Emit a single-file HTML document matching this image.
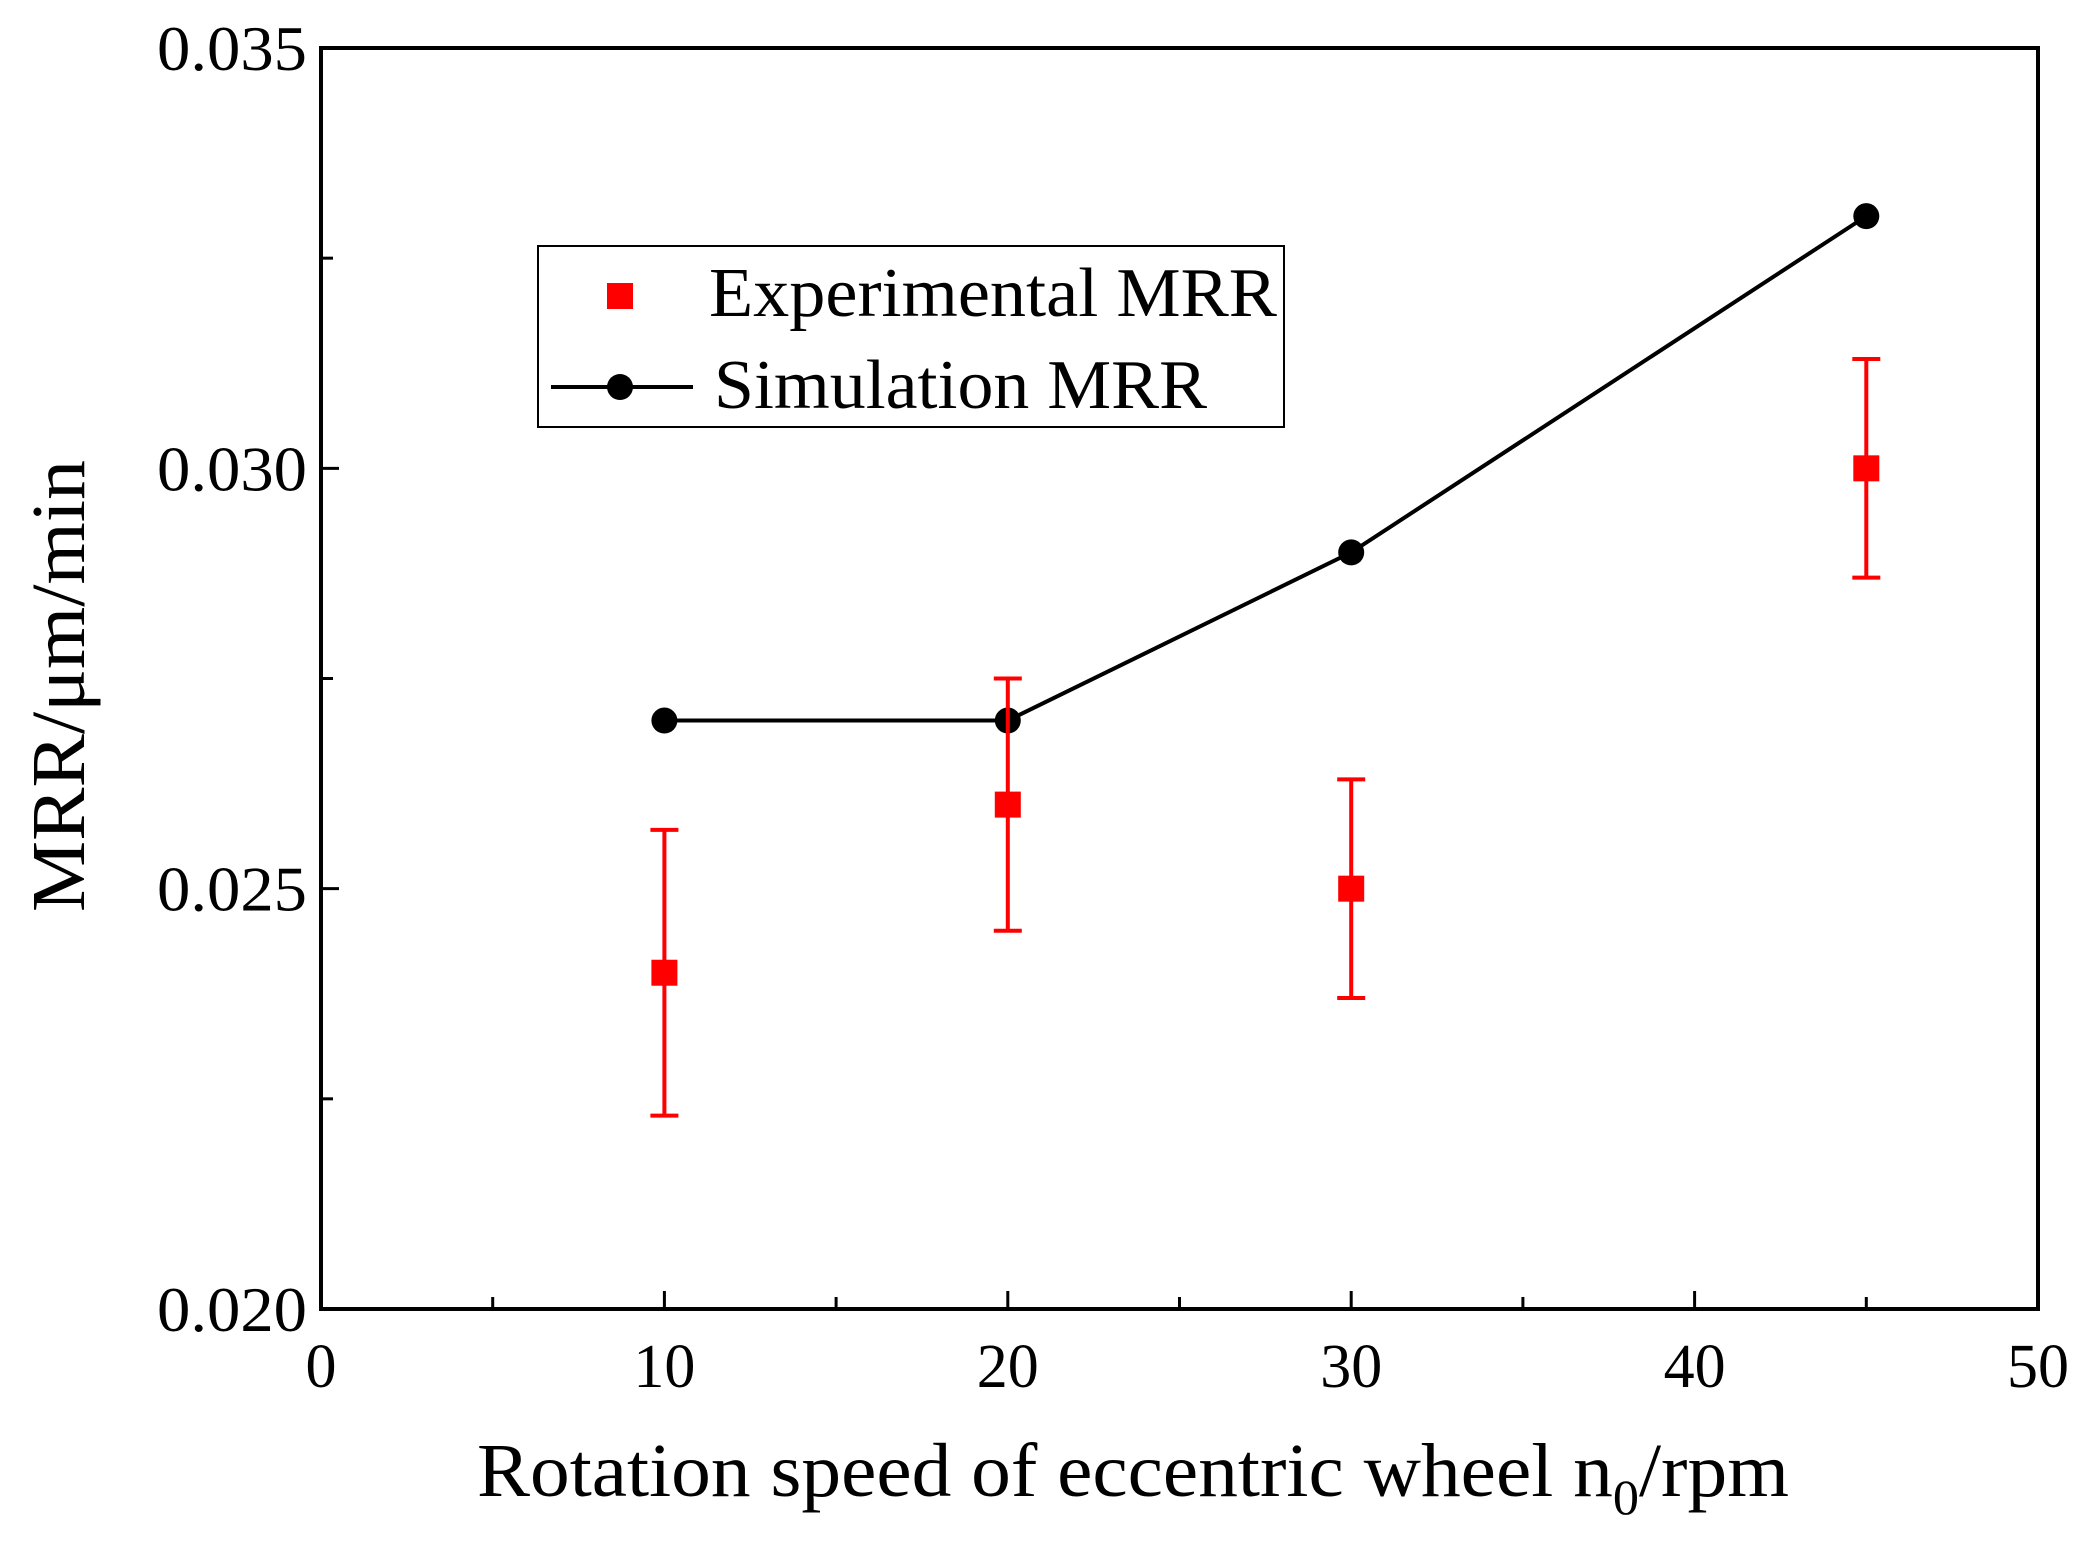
<!DOCTYPE html>
<html><head><meta charset="utf-8"><style>html,body{margin:0;padding:0;background:#fff;}svg{display:block;}</style></head>
<body>
<svg id="chart" width="2082" height="1551" xmlns="http://www.w3.org/2000/svg" font-family="Liberation Serif, serif">
<g id="axes"></g>
<g id="marks"></g>
<g>
<rect x="538" y="246" width="746" height="181" fill="#fff" stroke="#000" stroke-width="2"/>
<rect x="607" y="283" width="26" height="26" fill="#f00"/>
<text x="709" y="316" font-size="70" textLength="568" lengthAdjust="spacingAndGlyphs">Experimental MRR</text>
<line x1="551" y1="387" x2="693" y2="387" stroke="#000" stroke-width="4"/>
<circle cx="620" cy="387" r="13" fill="#000"/>
<text x="714" y="408" font-size="70" textLength="493" lengthAdjust="spacingAndGlyphs">Simulation MRR</text>
</g>
<text x="477" y="1496" font-size="76" textLength="1312" lengthAdjust="spacingAndGlyphs">Rotation speed of eccentric wheel  n<tspan font-size="50" dy="18">0</tspan><tspan dy="-18">/rpm</tspan></text>
<text transform="translate(84,686) rotate(-90)" text-anchor="middle" font-size="76" textLength="452" lengthAdjust="spacingAndGlyphs">MRR/μm/min</text>
</svg>
<script>
const xTicks=[0,10,20,30,40,50];
const yTicks=[0.020,0.025,0.030,0.035];
const yTickLabels=["0.020","0.025","0.030","0.035"];
const expX=[10,20,30,45];
const expY=[0.024,0.026,0.025,0.030];
const expErr=[0.0017,0.0015,0.0013,0.0013];
const simX=[10,20,30,45];
const simY=[0.027,0.027,0.029,0.033];
const L=321,R=2038,T=48,B=1309;
const xs=v=>L+(v-0)/(50-0)*(R-L);
const ys=v=>B-(v-0.020)/(0.015)*(B-T);
const NS="http://www.w3.org/2000/svg";
function mk(p,tag,a){const e=document.createElementNS(NS,tag);for(const k in a)e.setAttribute(k,a[k]);p.appendChild(e);return e;}
const ax=document.getElementById('axes'),mg=document.getElementById('marks');
let f=mk(ax,'rect',{x:L,y:T,width:R-L,height:B-T,fill:'none',stroke:'#000','stroke-width':4});


xTicks.forEach((v,i)=>{
 let t=mk(ax,'line',{x1:xs(v),x2:xs(v),y1:B,y2:B-18,stroke:'#000','stroke-width':3});
 
 
 if(i<xTicks.length-1){let m=mk(ax,'line',{x1:xs(v+5),x2:xs(v+5),y1:B,y2:B-12,stroke:'#000','stroke-width':3});
 
 }
 let l=mk(ax,'text',{x:xs(v),y:B+78,'text-anchor':'middle','font-size':62});l.textContent=String(v);
 
 
});
yTicks.forEach((v,i)=>{
 let t=mk(ax,'line',{x1:L,x2:L+18,y1:ys(v),y2:ys(v),stroke:'#000','stroke-width':3});
 
 
 if(i<yTicks.length-1){let m=mk(ax,'line',{x1:L,x2:L+12,y1:ys(v+0.0025),y2:ys(v+0.0025),stroke:'#000','stroke-width':3});
 
 }
 let l=mk(ax,'text',{x:L-14,y:ys(v)+22,'text-anchor':'end','font-size':64,textLength:150,lengthAdjust:'spacingAndGlyphs'});l.textContent=yTickLabels[i];
 
 
});
let pts=simX.map((x,i)=>xs(x)+','+ys(simY[i])).join(' ');
let pl=mk(mg,'polyline',{points:pts,fill:'none',stroke:'#000','stroke-width':4});


simX.forEach((x,i)=>{let c=mk(mg,'circle',{cx:xs(x),cy:ys(simY[i]),r:13,fill:'#000'});
 
 });
expX.forEach((x,i)=>{
 const cx=xs(x),t=ys(expY[i]+expErr[i]),b=ys(expY[i]-expErr[i]);
 let e=mk(mg,'path',{d:`M${cx},${t}V${b}M${cx-14},${t}H${cx+14}M${cx-14},${b}H${cx+14}`,stroke:'#f00','stroke-width':4,fill:'none'});
 
 
 let s=mk(mg,'rect',{x:cx-13,y:ys(expY[i])-13,width:26,height:26,fill:'#f00'});
 
 
});
</script>
</body></html>
